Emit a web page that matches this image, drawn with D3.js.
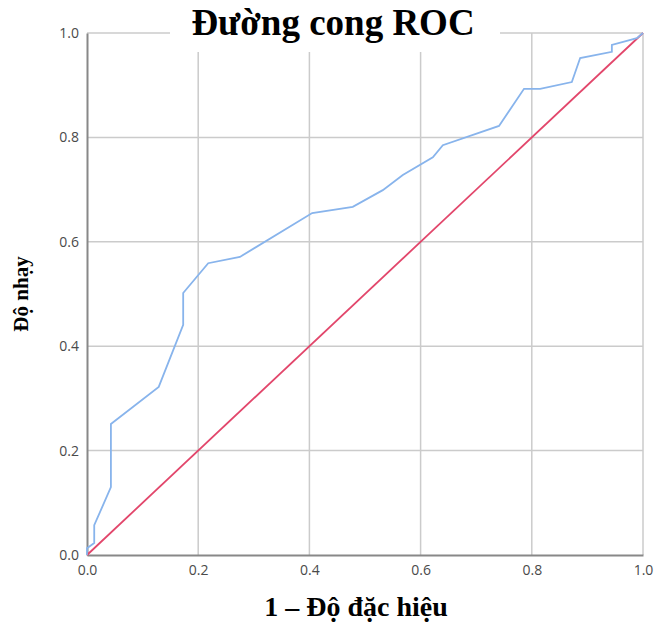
<!DOCTYPE html>
<html>
<head>
<meta charset="utf-8">
<script src="https://cdn.jsdelivr.net/npm/d3@7"></script>
<style>
  body { margin: 0; background: #fff; }
  svg { display: block; }
  .tick text { font-family: "Open Sans", "DejaVu Sans", sans-serif; font-size: 14px; fill: #4a4a4a; }
  .ttl { font-family: "Liberation Serif", "Times New Roman", serif; font-weight: bold; fill: #000; }
</style>
</head>
<body>
<script>
// ROC curve points (1 - specificity, sensitivity)
var fpr = [0, 0, 0.013, 0.013, 0.043, 0.043, 0.129, 0.173, 0.173, 0.218, 0.275, 0.405, 0.478, 0.532, 0.568, 0.622, 0.640, 0.741, 0.786, 0.815, 0.872, 0.887, 0.944, 0.944, 0.989, 1];
var tpr = [0, 0.013, 0.023, 0.057, 0.130, 0.251, 0.322, 0.441, 0.502, 0.559, 0.571, 0.655, 0.667, 0.699, 0.728, 0.762, 0.785, 0.822, 0.893, 0.893, 0.906, 0.952, 0.964, 0.977, 0.990, 1];
var refLine = [0, 1];
var ticks = [0, 0.2, 0.4, 0.6, 0.8, 1.0];

var W = 658, H = 624;
var svg = d3.select("body").append("svg").attr("width", W).attr("height", H);

var x = d3.scaleLinear().domain([0, 1]).range([87, 643]);
var y = d3.scaleLinear().domain([0, 1]).range([555, 33]);

// grid
svg.append("g").selectAll("line.v").data(ticks.slice(1)).enter().append("line")
  .attr("x1", function(d) { return x(d); }).attr("x2", function(d) { return x(d); })
  .attr("y1", y(1)).attr("y2", y(0))
  .attr("stroke", "#cbcbcb").attr("stroke-width", 1.5);
svg.append("g").selectAll("line.h").data(ticks.slice(1)).enter().append("line")
  .attr("x1", x(0)).attr("x2", x(1))
  .attr("y1", function(d) { return y(d); }).attr("y2", function(d) { return y(d); })
  .attr("stroke", "#cbcbcb").attr("stroke-width", 1.5);

// axes
var fmt = d3.format(".1f");
var gx = svg.append("g").attr("transform", "translate(0," + y(0) + ")")
  .call(d3.axisBottom(x).tickValues(ticks).tickFormat(fmt).tickSize(0).tickPadding(10));
var gy = svg.append("g").attr("transform", "translate(" + x(0) + ",0)")
  .call(d3.axisLeft(y).tickValues(ticks).tickFormat(fmt).tickSize(0).tickPadding(8));
[gx, gy].forEach(function(g) { g.select(".domain").attr("stroke", "#888").attr("stroke-width", 2); });

// reference diagonal
svg.append("path").datum(refLine)
  .attr("d", d3.line().x(function(d) { return x(d); }).y(function(d) { return y(d); }))
  .attr("fill", "none").attr("stroke", "#e2466b").attr("stroke-width", 1.8);

// ROC curve
var pts = fpr.map(function(v, i) { return [v, tpr[i]]; });
svg.append("path").datum(pts)
  .attr("d", d3.line().x(function(d) { return x(d[0]); }).y(function(d) { return y(d[1]); }))
  .attr("fill", "none").attr("stroke", "#88b4ec").attr("stroke-width", 1.8);

// title with white box
svg.append("rect").attr("x", 170).attr("y", 0).attr("width", 330).attr("height", 52).attr("fill", "#fff");
svg.append("text").attr("class", "ttl").attr("x", 333).attr("y", 35)
  .attr("text-anchor", "middle").attr("font-size", 37).text("Đường cong ROC");

svg.append("text").attr("class", "ttl").attr("x", 356).attr("y", 616)
  .attr("text-anchor", "middle").attr("font-size", 28).text("1 – Độ đặc hiệu");

svg.append("text").attr("class", "ttl")
  .attr("transform", "translate(28,294) rotate(-90)")
  .attr("text-anchor", "middle").attr("font-size", 21).text("Độ nhạy");
</script>
</body>
</html>
